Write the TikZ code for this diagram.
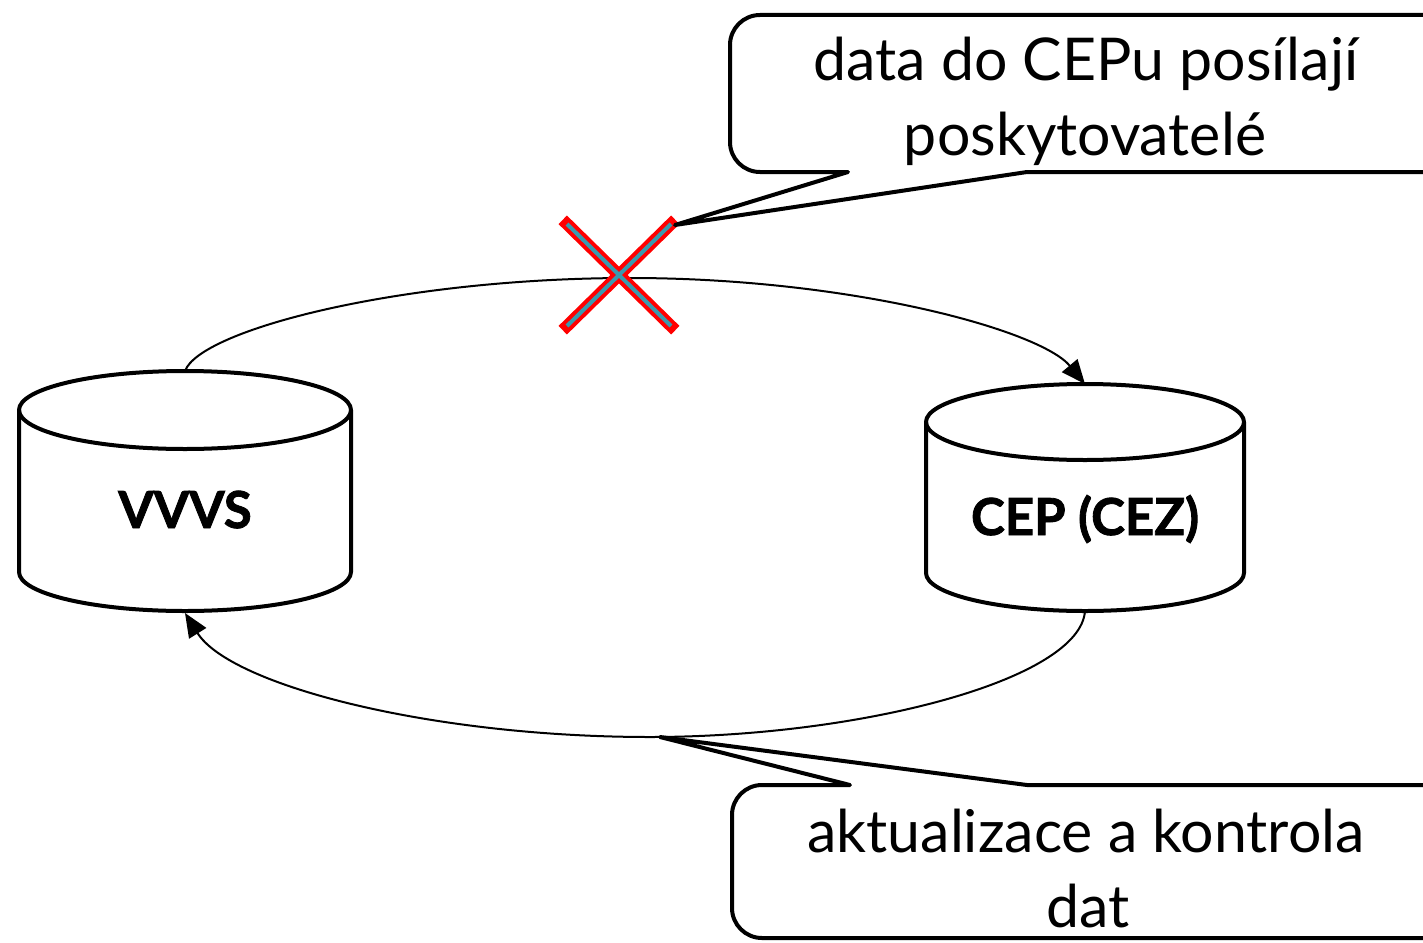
\documentclass[tikz,border=0pt]{standalone}
\usepackage{fontspec}
\setmainfont{Lato}
\usetikzlibrary{arrows.meta}
\definecolor{xteal}{RGB}{58,154,174}
\tikzset{
  cyl/.style={line width=4pt, line join=round},
  flow/.style={line width=2pt, -{Triangle[length=24pt,width=20pt]}},
  callout/.style={line width=4pt, line join=round},
  ctext/.style={font=\fontsize{59}{63}\selectfont, anchor=base, inner sep=0pt},
  dbtext/.style={font=\bfseries\fontsize{51}{55}\selectfont\addfontfeatures{FakeBold=1.6}, anchor=base, inner sep=0pt},
}
\begin{document}
\begin{tikzpicture}[x=1pt,y=-1pt]
\useasboundingbox (0,0) rectangle (1423,942);
% VVVS cylinder
\draw[cyl] (185,410) ellipse [x radius=166, y radius=39];
\draw[cyl] (19,410) -- (19,572) arc[start angle=180, end angle=0, x radius=166, y radius=39] -- (351,410);
\coordinate (vtop) at (185,371);
\coordinate (vbot) at (185,613);
\node[dbtext] (vvvs) at (185,528) {VVVS};
% CEP cylinder
\draw[cyl] (1085,422) ellipse [x radius=159, y radius=38];
\draw[cyl] (926,422) -- (926,573) arc[start angle=180, end angle=0, x radius=159, y radius=38] -- (1244,422);
\coordinate (ctop) at (1085,384);
\coordinate (cbot) at (1085,611);
\node[dbtext] (cep) at (1085,535) {CEP (CEZ)};
% flows
\coordinate (peak) at (630,278);
\coordinate (trough) at (650,737);
\draw[flow] (vtop) .. controls (200,330) and (400,278) .. (peak) .. controls (850,278) and (1040,330) .. (ctop);
\draw[flow] (cbot) .. controls (1080,680) and (860,737) .. (trough) .. controls (430,737) and (230,685) .. (vbot);
% red cross
\coordinate (xa) at (567,224); \coordinate (xb) at (671,326);
\coordinate (xc) at (567,326); \coordinate (xd) at (671,224);
\draw[red, line width=12pt, line cap=rect] (xa) -- (xb) (xc) -- (xd);
\draw[xteal, line width=4pt] (xa) -- (xb) (xc) -- (xd);
% top callout
\coordinate (tip1) at (675,225);
\draw[callout] (tip1) -- (848,172) [rounded corners=30pt] -- (730,172) -- (730,15) -- (1460,15) -- (1460,172) [sharp corners] -- (1027,172) -- cycle;
\node[ctext] (t1a) at (1086,80) {data do CEPu posílají};
\node[ctext] (t1b) at (1085,155) {poskytovatelé};
% bottom callout
\coordinate (tip2) at (660,737);
\draw[callout] (tip2) -- (850,785) [rounded corners=30pt] -- (732,785) -- (732,938) -- (1460,938) -- (1460,785) [sharp corners] -- (1027,785) -- cycle;
\node[ctext] (t2a) at (1086,852) {aktualizace a kontrola};
\node[ctext] (t2b) at (1088,927) {dat};
\end{tikzpicture}
\end{document}
